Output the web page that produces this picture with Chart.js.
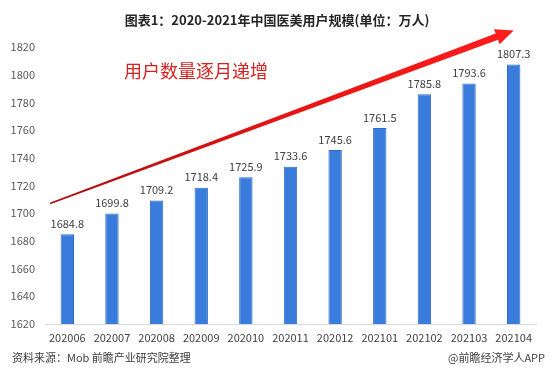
<!DOCTYPE html>
<html>
<head>
<meta charset="utf-8">
<script src="https://cdn.jsdelivr.net/npm/chart.js@4/dist/chart.umd.min.js"></script>
<style>
  html, body { margin: 0; padding: 0; background: #fff; }
  #wrap { width: 554px; height: 371px; }
</style>
</head>
<body>
<div id="wrap"><canvas id="chart"></canvas></div>
<script>
// 数据
const months = ['202006', '202007', '202008', '202009', '202010', '202011', '202012', '202101', '202102', '202103', '202104'];
const users = [1684.8, 1699.8, 1709.2, 1718.4, 1725.9, 1733.6, 1745.6, 1761.5, 1785.8, 1793.6, 1807.3];
const yMin = 1620;
const yMax = 1820;
const yStep = 20;

const titleText = '图表1：2020-2021年中国医美用户规模(单位：万人)';
const noteText = '用户数量逐月递增';
const sourceText = '资料来源：Mob 前瞻产业研究院整理';
const brandText = '@前瞻经济学人APP';

const FONT = '"Noto Sans CJK SC", "Noto Sans", sans-serif';

// 标题、数值标签、箭头和脚注
const extras = {
    id: 'extras',
    afterDatasetsDraw(chart) {
        const ctx = chart.ctx;
        const x = chart.scales.x;
        const y = chart.scales.y;
        const area = chart.chartArea;

        ctx.save();
        // 数值标签
        ctx.font = '11px ' + FONT;
        ctx.fillStyle = '#404040';
        ctx.textAlign = 'center';
        ctx.textBaseline = 'bottom';
        chart.getDatasetMeta(0).data.forEach((bar, i) => {
            ctx.fillText(users[i].toFixed(1), bar.x, bar.y - 5);
        });

        // 标题
        ctx.font = 'bold 13px ' + FONT;
        ctx.fillStyle = '#262626';
        ctx.textBaseline = 'middle';
        ctx.fillText(titleText, 277, 20);

        // 红色说明文字
        ctx.font = '18px ' + FONT;
        ctx.fillStyle = '#d42121';
        ctx.textAlign = 'left';
        ctx.fillText(noteText, 124, 71);

        // 箭头 (从细到粗)
        const x0 = area.left + 5, y0 = y.getPixelForValue(1707);
        const x1 = x.getPixelForValue(months.length - 1), y1 = y.getPixelForValue(1832);
        const ang = Math.atan2(y1 - y0, x1 - x0);
        const len = Math.hypot(x1 - x0, y1 - y0);
        const headLen = 18, headW = 8;
        ctx.translate(x0, y0);
        ctx.rotate(ang);
        const grad = ctx.createLinearGradient(0, 0, len, 0);
        grad.addColorStop(0, '#a80d0d');
        grad.addColorStop(0.5, '#e51515');
        grad.addColorStop(1, '#ff1c1c');
        ctx.fillStyle = grad;
        ctx.beginPath();
        ctx.moveTo(0, -0.8);
        ctx.lineTo(len - headLen, -3.4);
        ctx.lineTo(len - headLen, -headW);
        ctx.lineTo(len, 0);
        ctx.lineTo(len - headLen, headW);
        ctx.lineTo(len - headLen, 3.4);
        ctx.lineTo(0, 0.8);
        ctx.closePath();
        ctx.fill();
        ctx.setTransform(1, 0, 0, 1, 0, 0);

        // 脚注
        ctx.font = '11px ' + FONT;
        ctx.fillStyle = '#404040';
        ctx.textBaseline = 'middle';
        ctx.textAlign = 'left';
        ctx.fillText(sourceText, 12, 358);
        ctx.textAlign = 'right';
        ctx.fillText(brandText, 545, 358);
        ctx.restore();
    }
};

new Chart(document.getElementById('chart'), {
    type: 'bar',
    data: {
        labels: months,
        datasets: [{
            data: users,
            backgroundColor: '#3a7cdb',
            borderColor: '#2f6cc6',
            borderWidth: 1,
            categoryPercentage: 1,
            barPercentage: 0.3,
        }],
    },
    options: {
        responsive: true,
        maintainAspectRatio: false,
        animation: false,
        layout: { padding: { top: 47, left: 6, right: 18, bottom: 23 } },
        plugins: {
            legend: { display: false },
            title: { display: false },
            tooltip: { enabled: false },
        },
        scales: {
            x: {
                grid: { display: false, drawTicks: false },
                border: { display: true, color: '#d9d9d9', width: 1 },
                ticks: {
                    color: '#404040',
                    font: { family: FONT, size: 11 },
                    padding: 7,
                    maxRotation: 0,
                    autoSkip: false,
                },
                afterFit: s => { s.height = 24; },
            },
            y: {
                min: yMin,
                max: yMax,
                grid: { display: false, drawTicks: false },
                border: { display: false },
                ticks: {
                    stepSize: yStep,
                    color: '#595959',
                    font: { family: FONT, size: 11 },
                    padding: 10,
                    callback: v => String(v),
                },
                afterFit: s => { s.width = 39; },
            },
        },
    },
    plugins: [extras],
});
</script>
</body>
</html>
